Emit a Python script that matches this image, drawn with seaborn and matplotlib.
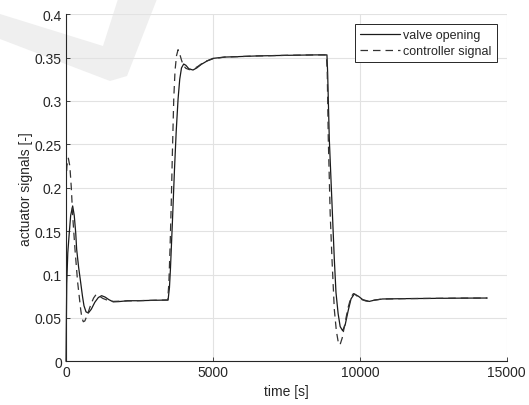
import pandas as pd
import seaborn as sns
import matplotlib.pyplot as plt
from matplotlib.patches import Polygon

# valve opening (solid line)
valve_t = [0, 10, 25, 60, 113, 158, 226, 280, 330, 362, 430, 498, 560, 611, 680, 758,
           860, 980, 1100, 1211, 1330, 1460, 1606, 1800, 2100, 2455, 3000, 3473,
           3520, 3553, 3620, 3690, 3750, 3813, 3870, 3930, 4005, 4080, 4180, 4322,
           4450, 4600, 4800, 5000, 5400, 5849, 6500, 7500, 8500, 8880,
           8903, 8960, 9050, 9130, 9187, 9260, 9330, 9413, 9500, 9600, 9700, 9809,
           9950, 10100, 10318, 10500, 10770, 11500, 12500, 13500, 14333]
valve_v = [0.0, 0.04, 0.09, 0.125, 0.149, 0.168, 0.179, 0.168, 0.148, 0.129, 0.108, 0.091, 0.075, 0.064, 0.057, 0.0556,
           0.06, 0.068, 0.0735, 0.0756, 0.074, 0.071, 0.0685, 0.0688, 0.0698, 0.0698, 0.0703, 0.0706,
           0.085, 0.106, 0.16, 0.22, 0.265, 0.302, 0.325, 0.338, 0.3425, 0.341, 0.337, 0.3356,
           0.338, 0.342, 0.346, 0.349, 0.3505, 0.351, 0.3518, 0.3525, 0.353, 0.353,
           0.333, 0.256, 0.183, 0.118, 0.0795, 0.055, 0.04, 0.0353, 0.042, 0.058, 0.072, 0.0775,
           0.075, 0.071, 0.069, 0.0705, 0.0718, 0.0722, 0.0725, 0.0728, 0.0729]

# controller signal (dashed line)
ctrl_t = [0, 30, 79, 130, 180, 226, 305, 396, 498, 540, 588, 640, 720, 850, 940, 1018,
          1100, 1250, 1400, 1600, 2000, 3000, 3460,
          3500, 3540, 3580, 3620, 3666, 3710, 3760, 3813, 3870, 3930, 3990, 4080, 4200,
          4350, 4500, 4700, 5000, 5400, 5849, 6500, 7500, 8500, 8860,
          8890, 8926, 8990, 9051, 9130, 9200, 9260, 9323, 9400, 9500, 9600, 9700, 9780,
          9850, 10000, 10200, 10318, 10500, 10770, 11500, 12500, 13500, 14333]
ctrl_v = [0.205, 0.225, 0.234, 0.225, 0.2, 0.168, 0.129, 0.091, 0.06, 0.05, 0.0456, 0.0465, 0.053, 0.066, 0.073, 0.0767,
          0.076, 0.0725, 0.0705, 0.069, 0.0695, 0.0703, 0.0706,
          0.09, 0.13, 0.18, 0.24, 0.302, 0.335, 0.352, 0.359, 0.354, 0.347, 0.341, 0.3375, 0.336,
          0.337, 0.34, 0.345, 0.3485, 0.3505, 0.351, 0.3518, 0.3525, 0.353, 0.353,
          0.333, 0.256, 0.17, 0.118, 0.06, 0.035, 0.023, 0.0188, 0.027, 0.045, 0.062, 0.074, 0.078,
          0.077, 0.072, 0.0695, 0.069, 0.0705, 0.0718, 0.0722, 0.0725, 0.0728, 0.0729]

x_ticks = [0, 5000, 10000, 15000]
y_ticks = [0, 0.05, 0.1, 0.15, 0.2, 0.25, 0.3, 0.35, 0.4]
y_tick_labels = ["0", "0.05", "0.1", "0.15", "0.2", "0.25", "0.3", "0.35", "0.4"]

valve = pd.DataFrame({"t": valve_t, "v": valve_v})
ctrl = pd.DataFrame({"t": ctrl_t, "v": ctrl_v})

sns.set_theme(style="whitegrid")
plt.rcParams["font.family"] = ["Liberation Sans", "DejaVu Sans"]

fig = plt.figure(figsize=(5.29, 4.06), dpi=100)
ax = fig.add_axes([0.1248, 0.1076, 0.8332, 0.8552])
ax.set_facecolor("none")

# faint watermark behind everything
W, H = 529, 406
pts = [(0, 15), (103, 47), (118, 0), (157, 0), (127, 77), (110, 82), (0, 40)]
fig.patches.append(Polygon([(x / W, 1 - y / H) for x, y in pts], closed=True,
                           transform=fig.transFigure, facecolor="#efefef",
                           edgecolor="none", zorder=-10))

sns.lineplot(data=valve, x="t", y="v", ax=ax, color="#1a1a1a", lw=0.9,
             sort=False, estimator=None, label="valve opening", clip_on=False)
sns.lineplot(data=ctrl, x="t", y="v", ax=ax, color="#333333", lw=0.9,
             sort=False, estimator=None, label="controller signal", dashes=False)
ax.lines[1].set_dashes([6, 4])

ax.set_xlim(0, 15000)
ax.set_ylim(0, 0.4)
ax.set_xticks(x_ticks)
ax.set_yticks(y_ticks)
ax.set_yticklabels(y_tick_labels)
ax.grid(True, color="#e2e2e2", lw=0.8)
ax.tick_params(direction="in", length=3, width=0.6, colors="#262626",
               labelsize=10, pad=3, left=True, bottom=True)
for s in ["top", "right"]:
    ax.spines[s].set_visible(False)
for s in ["left", "bottom"]:
    ax.spines[s].set_color("#262626")
    ax.spines[s].set_linewidth(0.8)

ax.set_xlabel("time [s]", fontsize=10, color="#262626", labelpad=3)
ax.set_ylabel("actuator signals [-]", fontsize=10, color="#262626", labelpad=1)

leg = ax.legend(loc="upper right", fontsize=9, frameon=True, fancybox=False,
                framealpha=1, edgecolor="#262626", borderaxespad=0.8,
                handlelength=3.2, handletextpad=0.3, borderpad=0.4,
                labelspacing=0.35)
leg.get_frame().set_linewidth(0.7)
leg.legend_handles[1].set_dashes([6, 4])

fig.savefig("out.png", dpi=100)
